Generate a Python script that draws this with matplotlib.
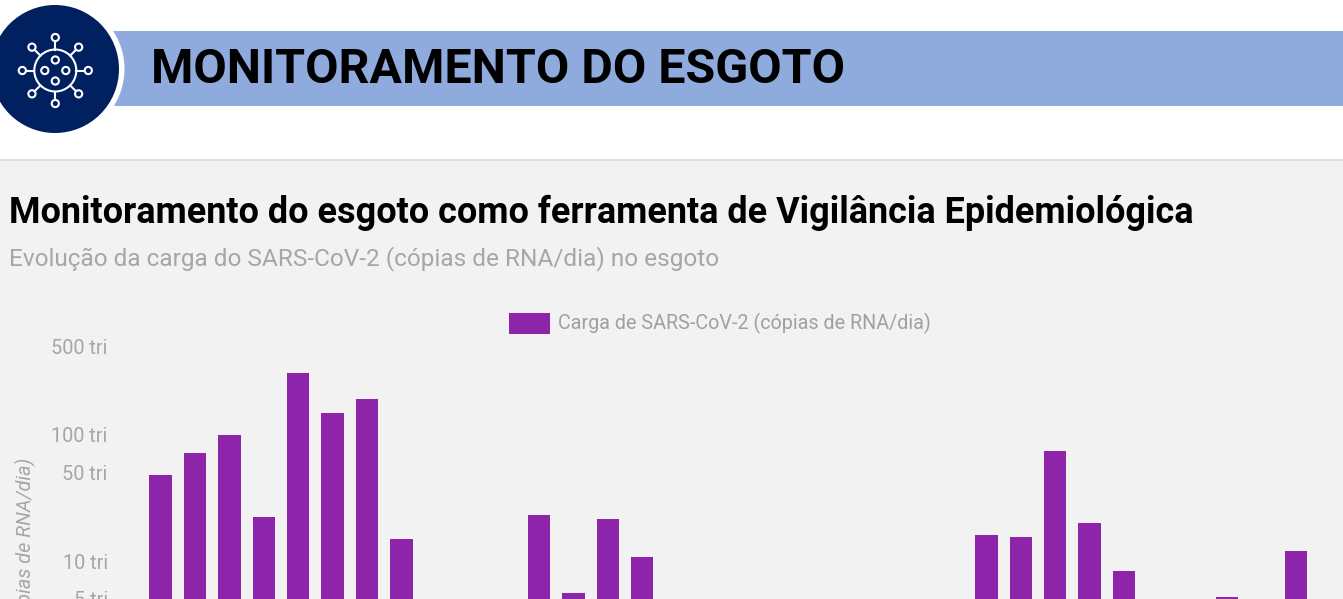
import numpy as np
import matplotlib
matplotlib.use('Agg')
import matplotlib.pyplot as plt
from matplotlib.patches import Circle, Rectangle
from matplotlib.ticker import FixedLocator, FixedFormatter, NullLocator

W, H = 1343, 599

# values in trillions of copies per day, nan = no bar in that week
weeks = np.arange(34)
carga = [48.1, 72, 100, 22.3, 310, 149.5, 193, 14.9,
         np.nan, np.nan, np.nan, 23.2, 5.57, 21.5, 10.7,
         np.nan, np.nan, np.nan, np.nan, np.nan, np.nan, np.nan, np.nan, np.nan,
         16.1, 15.5, 74.6, 20, 8.3,
         np.nan, np.nan, 5.2, np.nan, 12]
y_ticks = [5, 10, 50, 100, 500]
y_labels = ['5 tri', '10 tri', '50 tri', '100 tri', '500 tri']

banner_title = 'MONITORAMENTO DO ESGOTO'
title = 'Monitoramento do esgoto como ferramenta de Vigilância Epidemiológica'
subtitle = 'Evolução da carga do SARS-CoV-2 (cópias de RNA/dia) no esgoto'
serie = 'Carga de SARS-CoV-2 (cópias de RNA/dia)'

navy = '#002060'
purple = '#8e24aa'
grey = '#a6a6a6'

plt.rcParams['font.family'] = ['Roboto', 'DejaVu Sans']

fig = plt.figure(figsize=(W / 100, H / 100), dpi=100, facecolor='white')

# page furniture, in pixel coordinates
bg = fig.add_axes([0, 0, 1, 1], zorder=0)
bg.set_xlim(0, W)
bg.set_ylim(H, 0)
bg.axis('off')
bg.add_patch(Rectangle((0, 160), W, H - 160, fc='#f2f2f2', ec='none'))
bg.add_patch(Rectangle((0, 158.5), W, 2.5, fc='#dedede', ec='none'))
bg.add_patch(Rectangle((100, 31), W - 100, 75, fc='#8faadc', ec='none'))
cx, cy = 55, 69
bg.add_patch(Circle((cx, cy), 69.5, fc='white', ec='none'))
bg.add_patch(Circle((cx, cy), 64, fc=navy, ec='none'))

# virus icon
ix, iy = 55.3, 70.5
bg.add_patch(Circle((ix, iy), 21, fc='none', ec='white', lw=1.5))
for a in np.arange(0, 360, 45):
    c, s = np.cos(np.radians(a)), np.sin(np.radians(a))
    bg.plot([ix + 21 * c, ix + 33 * c], [iy + 21 * s, iy + 33 * s], color='white', lw=1.5)
    bg.add_patch(Circle((ix + 33 * c, iy + 33 * s), 3.6, fc=navy, ec='white', lw=1.5, zorder=3))
for a in np.arange(0, 360, 90):
    c, s = np.cos(np.radians(a)), np.sin(np.radians(a))
    bg.add_patch(Circle((ix + 10.5 * c, iy + 10.5 * s), 3.6, fc='none', ec='white', lw=1.5))

bg.text(151, 83, banner_title, fontsize=34.85, fontweight='bold', color='black', va='baseline')
bg.text(9, 223, title, fontsize=25.9, fontweight='bold', color='black', va='baseline')
bg.text(9, 265, subtitle, fontsize=17.6, color=grey, va='baseline')

# chart
left, top = 110, 330
ax = fig.add_axes([left / W, 0, (W - left) / W, (H - top) / H], zorder=1)
ax.patch.set_alpha(0)
ax.bar(weeks, carga, width=0.65, color=purple, label=serie)
ax.set_yscale('log')
ax.set_ylim(5, 680)
ax.set_xlim((left - 160.5) / 34.41, (W - 160.5) / 34.41)
ax.yaxis.set_major_locator(FixedLocator(y_ticks))
ax.yaxis.set_major_formatter(FixedFormatter(y_labels))
ax.yaxis.set_minor_locator(NullLocator())
ax.xaxis.set_major_locator(NullLocator())
ax.xaxis.set_minor_locator(NullLocator())
ax.tick_params(axis='y', length=0, pad=1.6, labelsize=14.3, labelcolor=grey)
for s in ax.spines.values():
    s.set_visible(False)

ax.set_ylabel(serie, fontsize=14.3, style='italic', color=grey, ha='right', va='center')
ax.yaxis.set_label_coords((25 - left) / (W - left), (H - 458) / (H - top))

ax.legend(loc='center left', bbox_to_anchor=(509 / W, 1 - 323.5 / H), bbox_transform=fig.transFigure,
          frameon=False, fontsize=14.2, labelcolor='#a0a0a0', handlelength=2.08, handleheight=1.26,
          handletextpad=0.4, borderpad=0, borderaxespad=0)

fig.savefig('out.png', dpi=100)
